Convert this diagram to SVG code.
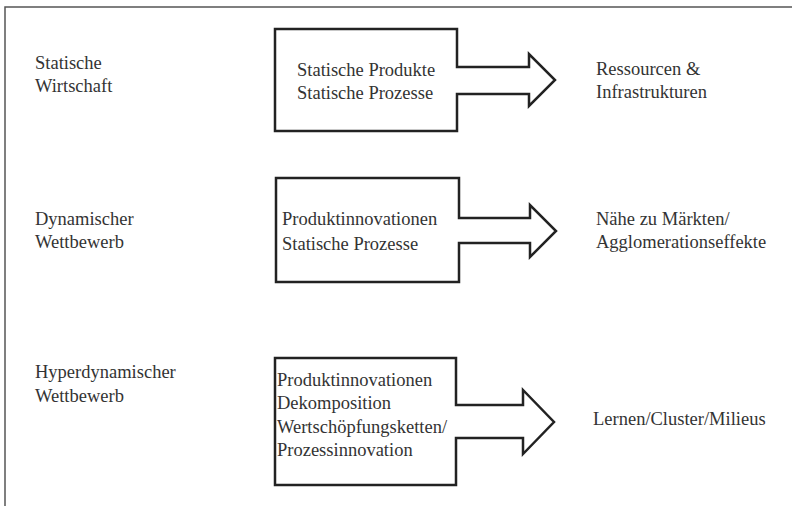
<svg xmlns="http://www.w3.org/2000/svg" width="792" height="506" viewBox="0 0 792 506">
  <style>
    .frame { fill: none; stroke: #555; stroke-width: 1.5; }
    .blk { fill: #fff; stroke: #222; stroke-width: 2.5; stroke-linejoin: miter; }
    text { font-family: "Liberation Serif", "Times New Roman", serif; font-size: 18.5px; fill: #333; }
  </style>
  <rect width="792" height="506" fill="#fff"/>
  <!-- page frame: top and left rules -->
  <path class="frame" d="M5,506 V7 H792"/>

  <!-- row 1 -->
  <g id="label-statisch">
    <text x="35" y="69">Statische</text>
    <text x="35" y="92">Wirtschaft</text>
  </g>
  <g id="node-statisch">
    <path class="blk" d="M275,29 H457 V67 H529 V54 L555,80 L529,106 V94 H457 V131 H275 Z"/>
    <text x="297" y="76">Statische Produkte</text>
    <text x="297" y="99">Statische Prozesse</text>
  </g>
  <g id="result-statisch">
    <text x="596" y="75">Ressourcen &amp;</text>
    <text x="596" y="98">Infrastrukturen</text>
  </g>

  <!-- row 2 -->
  <g id="label-dynamisch">
    <text x="35" y="225">Dynamischer</text>
    <text x="35" y="248">Wettbewerb</text>
  </g>
  <g id="node-dynamisch">
    <path class="blk" d="M276,178 H459 V218 H530 V205 L556,231 L530,257 V243 H459 V282 H276 Z"/>
    <text x="282" y="225">Produktinnovationen</text>
    <text x="282" y="250">Statische Prozesse</text>
  </g>
  <g id="result-dynamisch">
    <text x="596" y="225">Nähe zu Märkten/</text>
    <text x="596" y="248">Agglomerationseffekte</text>
  </g>

  <!-- row 3 -->
  <g id="label-hyper">
    <text x="35" y="378">Hyperdynamischer</text>
    <text x="35" y="402">Wettbewerb</text>
  </g>
  <g id="node-hyper">
    <path class="blk" d="M275,358 H456 V405 H523 V390 L554,422 L523,454 V438 H456 V485 H275 Z"/>
    <text x="277" y="386">Produktinnovationen</text>
    <text x="277" y="409">Dekomposition</text>
    <text x="277" y="433">Wertschöpfungsketten/</text>
    <text x="277" y="456">Prozessinnovation</text>
  </g>
  <g id="result-hyper">
    <text x="593" y="425">Lernen/Cluster/Milieus</text>
  </g>

  <!-- the block arrows are drawn as part of each node outline -->
  <g id="connectors"/>
</svg>
